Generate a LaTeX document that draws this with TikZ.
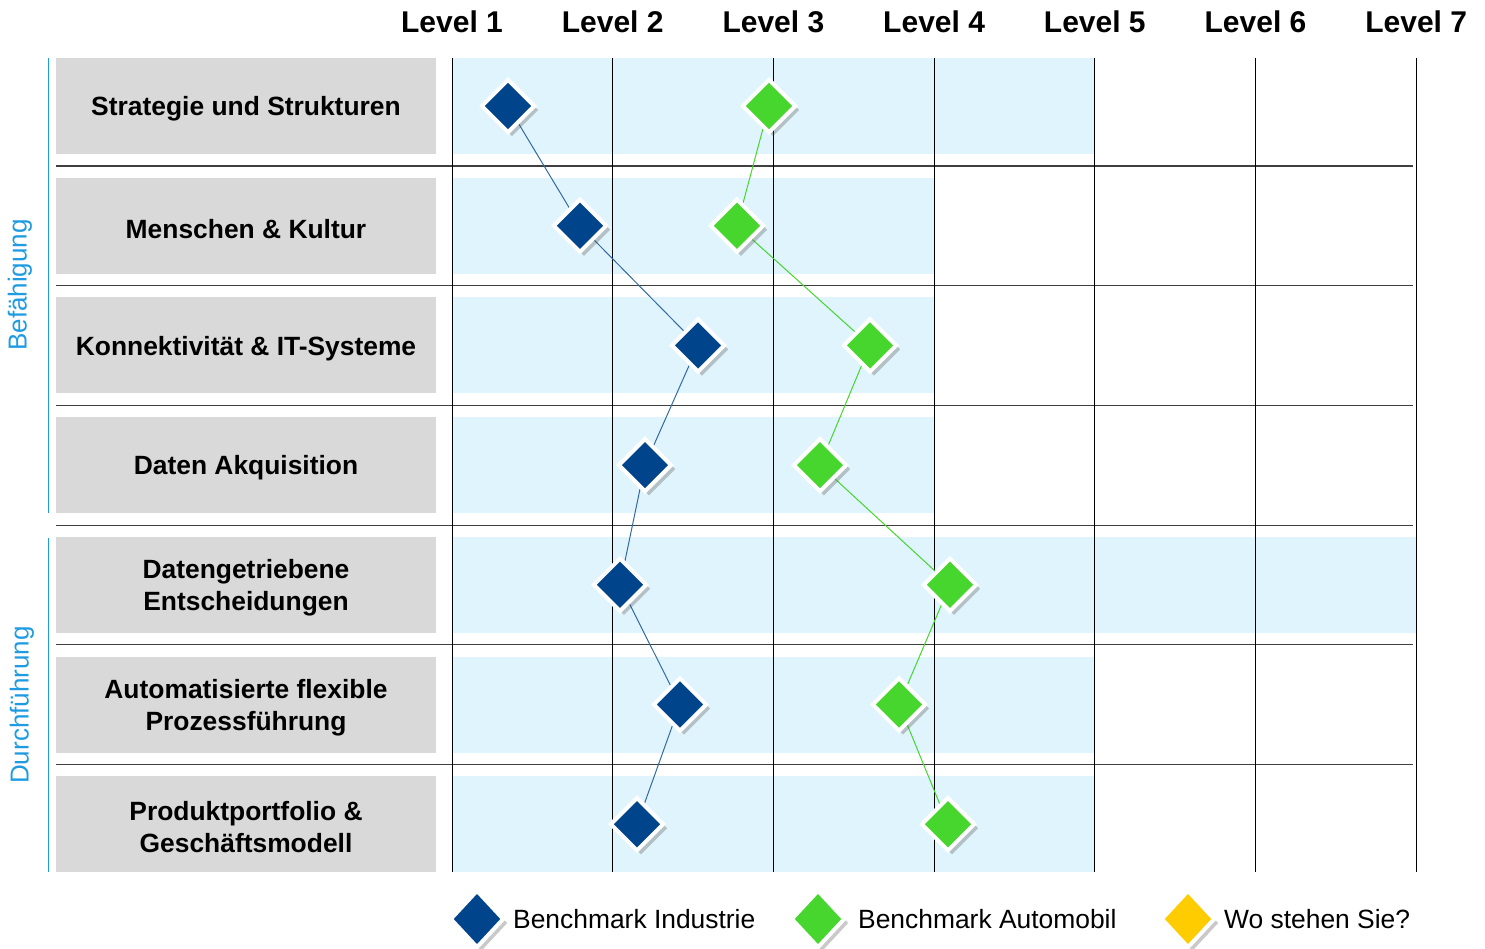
\documentclass[tikz,border=0pt]{standalone}
\usepackage{fontspec}
\setmainfont{Liberation Sans}
\usetikzlibrary{shapes.geometric,shadows,backgrounds}
\definecolor{bmblue}{RGB}{0,69,140}
\definecolor{bmgreen}{RGB}{70,214,46}
\definecolor{bmyellow}{RGB}{255,204,0}
\definecolor{rowgray}{RGB}{217,217,217}
\definecolor{rowblue}{RGB}{224,244,253}
\definecolor{sideblue}{RGB}{30,155,225}
\tikzset{
  bmark/.style={diamond,draw=white,line width=4pt,inner sep=0pt,
    minimum width=54pt,minimum height=54pt,
    drop shadow={shadow xshift=4pt,shadow yshift=-4pt,opacity=0.3,fill=black!70}},
  legmark/.style={bmark,minimum width=54pt,minimum height=58pt},
  rowbox/.style={fill=rowgray,minimum width=380pt,minimum height=96pt},
  rowtxt/.style={align=center,font=\fontsize{26.4}{32}\selectfont\bfseries},
  leveltxt/.style={font=\fontsize{30}{36}\selectfont\bfseries},
  legtxt/.style={anchor=west,inner sep=0pt,font=\fontsize{26.4}{32}\selectfont},
  sidetxt/.style={rotate=90,text=sideblue,font=\fontsize{26}{32}\selectfont}
}
\begin{document}
\begin{tikzpicture}[x=1pt,y=-1pt]
\pgfmathsetmacro{\dy}{119.7}
\pgfmathsetmacro{\dx}{160.7}
\useasboundingbox (0,0) rectangle (1485,948);
%
\begin{scope}[on background layer]
\foreach \i/\ende in {0/1095,1/934,2/934,3/934,4/1416,5/1095,6/1095}
  \fill[rowblue](452,{58+\dy*\i}) rectangle (\ende,{154+\dy*\i});
\foreach \k in {0,...,5}
  \draw[black!75,line width=1.2pt](56,{166+\dy*\k})--(1413,{166+\dy*\k});
\foreach \j in {0,...,6}
  \draw[line width=1pt](452+\dx*\j,58)--(452+\dx*\j,872);
\end{scope}
%
\foreach \j in {1,...,7}
  \node[leveltxt](lv\j) at ({452+\dx*(\j-1)},22){Level \j};
%
\foreach \i/\txt in {1/{Strategie und Strukturen},2/{Menschen \& Kultur},
  3/{Konnektivität \& IT-Systeme},4/{Daten Akquisition},
  5/{Datengetriebene\\Entscheidungen},6/{Automatisierte flexible\\Prozessführung},
  7/{Produktportfolio \&\\Geschäftsmodell}}{
  \node[rowbox](row\i) at (246,{106+\dy*(\i-1)}){};
  \node[rowtxt,yshift=-3pt](rowtxt\i) at (row\i){\txt};
}
%
\coordinate(bef1) at (48,58); \coordinate(bef2) at (48,513);
\coordinate(dur1) at (48,538); \coordinate(dur2) at (48,872);
\draw[sideblue,line width=1pt](bef1)--(bef2);
\draw[sideblue,line width=1pt](dur1)--(dur2);
\node[sidetxt](befaehigung) at (20,285){Befähigung};
\node[sidetxt](durchfuehrung) at (22,705){Durchführung};
%
\foreach \i/\xb/\xa in {1/508/769,2/580/737,3/698/870,4/645/820,5/620/950,6/680/899,7/637/948}{
  \node[bmark,fill=bmblue](bi\i) at (\xb,{106+\dy*(\i-1)}){};
  \node[bmark,fill=bmgreen](ba\i) at (\xa,{106+\dy*(\i-1)}){};
}
\begin{scope}[on background layer]
\foreach \i in {1,...,6}{
  \pgfmathtruncatemacro{\n}{\i+1}
  \draw[bmblue!80,line width=1pt](bi\i)--(bi\n);
  \draw[bmgreen,line width=1pt](ba\i)--(ba\n);
}
\end{scope}
%
\node[legmark,fill=bmblue](legind) at (477,919){};
\node[legtxt](txtind) at (513,919){Benchmark Industrie};
\node[legmark,fill=bmgreen](legauto) at (818,919){};
\node[legtxt](txtauto) at (858,919){Benchmark Automobil};
\node[legmark,fill=bmyellow](legsie) at (1188,919){};
\node[legtxt](txtsie) at (1224,919){Wo stehen Sie?};
\end{tikzpicture}
\end{document}
